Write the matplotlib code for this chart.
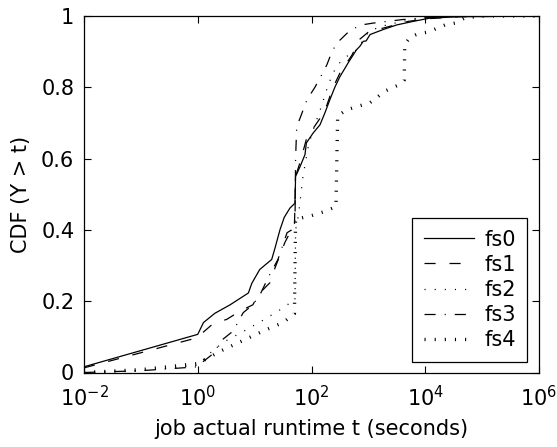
import numpy as np
import matplotlib
matplotlib.use("Agg")
import matplotlib.pyplot as plt

plt.rcParams['font.family'] = ['DejaVu Sans']
plt.rcParams['mathtext.fontset'] = 'dejavusans'
plt.rcParams['mathtext.default'] = 'regular'
plt.rcParams['lines.scale_dashes'] = False

# ---- data: log10(runtime in seconds) and CDF values ----
fs0_logt = [-2, 0, 0.1, 0.3, 0.57, 0.89, 0.95, 1.09, 1.30, 1.36, 1.445, 1.52, 1.62, 1.71, 1.72,
            1.8, 1.885, 1.91, 2.03, 2.15, 2.24, 2.32, 2.41, 2.5, 2.65, 2.79, 2.85, 2.91, 2.96,
            3.03, 3.26, 3.5, 3.79, 4.08, 4.6, 6]
fs0_cdf = [0.016, 0.107, 0.14, 0.166, 0.19, 0.223, 0.25, 0.289, 0.317, 0.35, 0.40, 0.435, 0.461,
           0.475, 0.55, 0.578, 0.611, 0.644, 0.672, 0.695, 0.73, 0.764, 0.80, 0.83, 0.87, 0.905,
           0.915, 0.929, 0.93, 0.948, 0.962, 0.975, 0.985, 0.994, 0.998, 1.0]

fs1_logt = [-2, -0.02, 0.27, 0.51, 0.74, 0.97, 1.06, 1.27, 1.36, 1.53, 1.62, 1.70, 1.72, 1.8,
            1.92, 2.03, 2.18, 2.27, 2.38, 2.5, 2.71, 2.85, 3.0, 3.4, 3.7, 4.1, 4.6, 6]
fs1_cdf = [0.013, 0.097, 0.137, 0.149, 0.172, 0.19, 0.218, 0.252, 0.294, 0.364, 0.392, 0.41,
           0.55, 0.59, 0.66, 0.685, 0.72, 0.75, 0.80, 0.84, 0.89, 0.935, 0.955, 0.972, 0.985,
           0.993, 0.998, 1.0]

fs2_logt = [-2, -1, 0, 0.22, 0.45, 0.8, 1.12, 1.45, 1.62, 1.71, 1.72, 1.77, 1.85, 1.95, 2.05,
            2.15, 2.3, 2.44, 2.6, 2.76, 2.9, 3.0, 3.2, 3.6, 4.0, 4.6, 6]
fs2_cdf = [0.0, 0.005, 0.02, 0.055, 0.085, 0.115, 0.144, 0.176, 0.195, 0.2, 0.40, 0.44, 0.55,
           0.64, 0.69, 0.735, 0.81, 0.86, 0.885, 0.90, 0.93, 0.955, 0.97, 0.985, 0.995, 0.999, 1.0]

fs3_logt = [-2, -1, 0, 0.09, 0.25, 0.44, 0.62, 0.8, 0.97, 1.1, 1.25, 1.41, 1.57, 1.65, 1.71,
            1.72, 1.74, 1.8, 1.92, 2.06, 2.18, 2.27, 2.35, 2.44, 2.55, 2.68, 2.88, 3.08, 3.6,
            4.0, 4.6, 6]
fs3_cdf = [0.0, 0.005, 0.016, 0.03, 0.05, 0.093, 0.116, 0.168, 0.19, 0.22, 0.27, 0.317, 0.392,
           0.40, 0.42, 0.6, 0.69, 0.714, 0.765, 0.80, 0.835, 0.863, 0.896, 0.923, 0.94, 0.96,
           0.975, 0.98, 0.99, 0.995, 0.999, 1.0]

fs4_logt = [-2, -1, 0, 0.4, 0.8, 1.2, 1.5, 1.7, 1.72, 2.0, 2.2, 2.43, 2.46, 2.62, 3.03, 3.3,
            3.58, 3.63, 3.64, 3.73, 3.87, 4.05, 4.2, 4.35, 4.52, 4.7, 5.0, 6]
fs4_cdf = [0.0, 0.008, 0.025, 0.06, 0.09, 0.12, 0.14, 0.165, 0.43, 0.44, 0.45, 0.465, 0.72,
           0.737, 0.757, 0.79, 0.81, 0.82, 0.92, 0.94, 0.95, 0.955, 0.965, 0.975, 0.98, 0.995,
           1.0, 1.0]

labels = ['fs0', 'fs1', 'fs2', 'fs3', 'fs4']
xticks = [1e-2, 1e0, 1e2, 1e4, 1e6]
xtick_labels = ['$10^{-2}$', '$10^{0}$', '$10^{2}$', '$10^{4}$', '$10^{6}$']
yticks = [0, 0.2, 0.4, 0.6, 0.8, 1]
ytick_labels = ['0', '0.2', '0.4', '0.6', '0.8', '1']

series = [(fs0_logt, fs0_cdf), (fs1_logt, fs1_cdf), (fs2_logt, fs2_cdf),
          (fs3_logt, fs3_cdf), (fs4_logt, fs4_cdf)]
styles = [
    dict(linestyle='-', linewidth=0.9),
    dict(linestyle=(0, (8.0, 10.0)), linewidth=0.9),
    dict(linestyle=(0, (0.8, 6.5)), linewidth=0.9),
    dict(linestyle=(0, (8.0, 6.5, 0.8, 6.5)), linewidth=0.9),
    dict(linestyle=(0, (0.8, 6.5)), linewidth=2.4),
]

FS = 15

fig = plt.figure(figsize=(5.57, 4.47), dpi=100)
ax = fig.add_axes([84 / 557, 1 - 372.5 / 447, 455 / 557, 356.5 / 447])

for (lt, c), lab, st in zip(series, labels, styles):
    ax.plot(10 ** np.asarray(lt), c, color='black', label=lab, **st)

ax.set_xscale('log')
ax.set_xlim(1e-2, 1e6)
ax.set_ylim(0, 1)
ax.set_xticks(xticks)
ax.set_xticklabels(xtick_labels)
ax.xaxis.set_minor_locator(matplotlib.ticker.NullLocator())
ax.set_yticks(yticks)
ax.set_yticklabels(ytick_labels)
ax.tick_params(which='both', direction='in', top=True, right=True, length=5,
               width=0.8, labelsize=FS)
ax.tick_params(axis='x', pad=9)
ax.tick_params(axis='y', pad=7)
for s in ax.spines.values():
    s.set_linewidth(0.9)

ax.set_xlabel('job actual runtime t (seconds)', fontsize=FS, labelpad=6)
ax.set_ylabel('CDF (Y > t)', fontsize=FS, labelpad=7)

leg = ax.legend(loc='lower right', bbox_to_anchor=(0.974, 0.03), borderaxespad=0,
                fontsize=FS, fancybox=False, framealpha=1, edgecolor='black',
                handlelength=2.4, handletextpad=0.5, labelspacing=0.25,
                borderpad=0.55)
leg.get_frame().set_linewidth(0.9)

fig.savefig('out.png', dpi=100)
